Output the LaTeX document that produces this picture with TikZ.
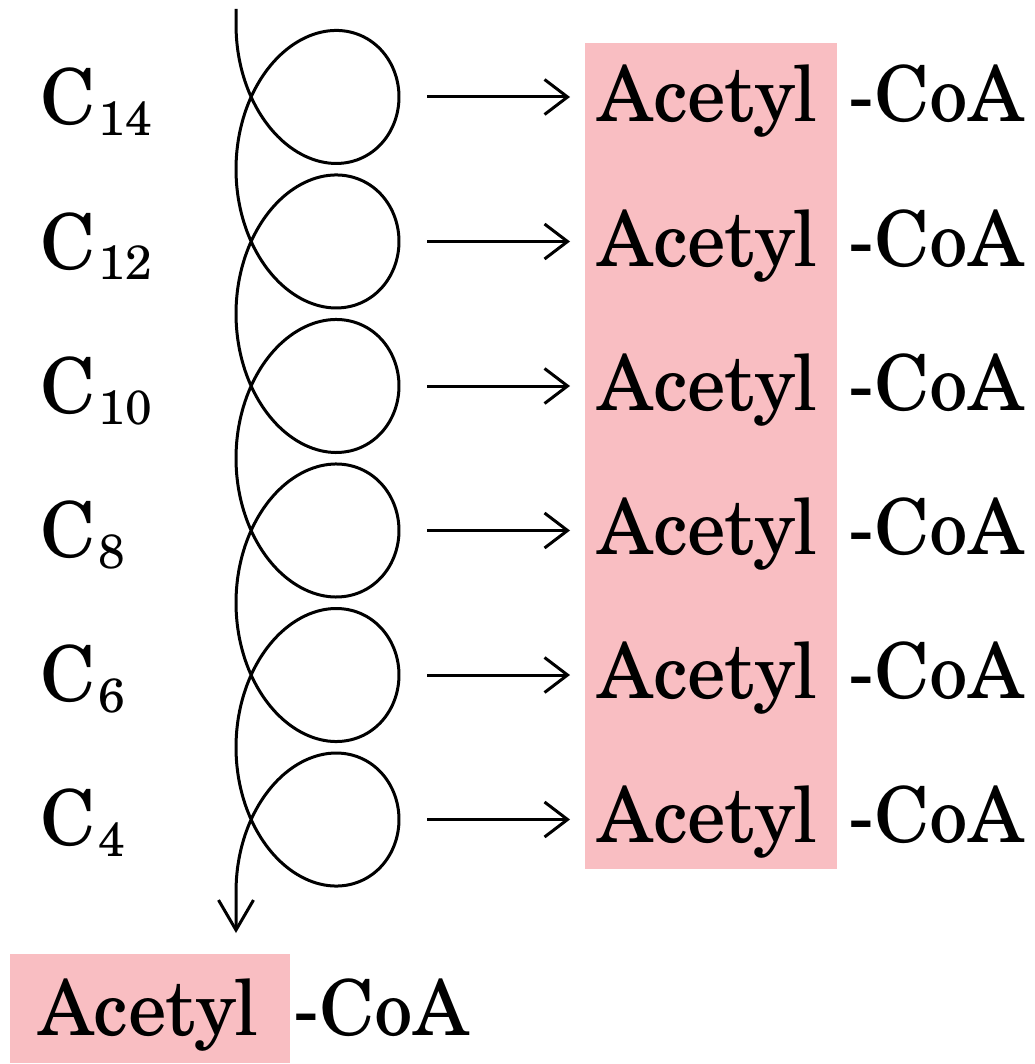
\documentclass[tikz,border=0pt]{standalone}
\usepackage{fontspec}
\setmainfont{TeX Gyre Schola}
\usetikzlibrary{arrows.meta}
\definecolor{acpink}{RGB}{249,190,194}
\newcommand{\csub}[1]{\raisebox{-5.5pt}{\fontsize{24}{24}\selectfont\kern1.5pt #1}}
\tikzset{
 lbl/.style={anchor=base west,inner sep=0pt,font=\fontsize{38.5}{40}\selectfont},
 react/.style={line width=1.5pt,-{Straight Barb[length=11.5pt,width=17.5pt]}}
}
\begin{document}
\begin{tikzpicture}[x=0.5pt,y=-0.5pt]
 \useasboundingbox (0,0) rectangle (1034,1064);
 % pink boxes
 \fill[acpink] (585,43) rectangle (837,869);
 \fill[acpink] (10,954) rectangle (290,1063);
 \foreach \n/\r in {14/0,12/1,10/2,8/3,6/4,4/5}{
 \node[lbl] (c\n) at (40,125+144*\r) {C\csub{\n}};
 \node[lbl] (ac\n) at (597,122+144*\r) {Acetyl};
 \node[lbl] (coa\n) at (848,122+144*\r) {-CoA};
 \coordinate (lp\n) at (399,97+144.5*\r);
 \draw[react,shorten <=14pt,shorten >=13.5pt] (lp\n) -- (ac\n.west |- lp\n);
 }
 % spiral
 \coordinate (top) at (236,9);
 \coordinate (tail) at (236,933);
 \draw[line width=1.5pt,-{Straight Barb[length=15pt,width=17.5pt]}] (top)
 -- plot[domain=0:37.699,samples=400,smooth] ({317.5-81.5*cos(\x r)},{24.7+23*\x+100*sin(\x r)})
 -- (tail);
 \node[lbl] (acb) at (38,1035) {Acetyl};
 \node[lbl] (coab) at (293,1035) {-CoA};
\end{tikzpicture}
\end{document}
